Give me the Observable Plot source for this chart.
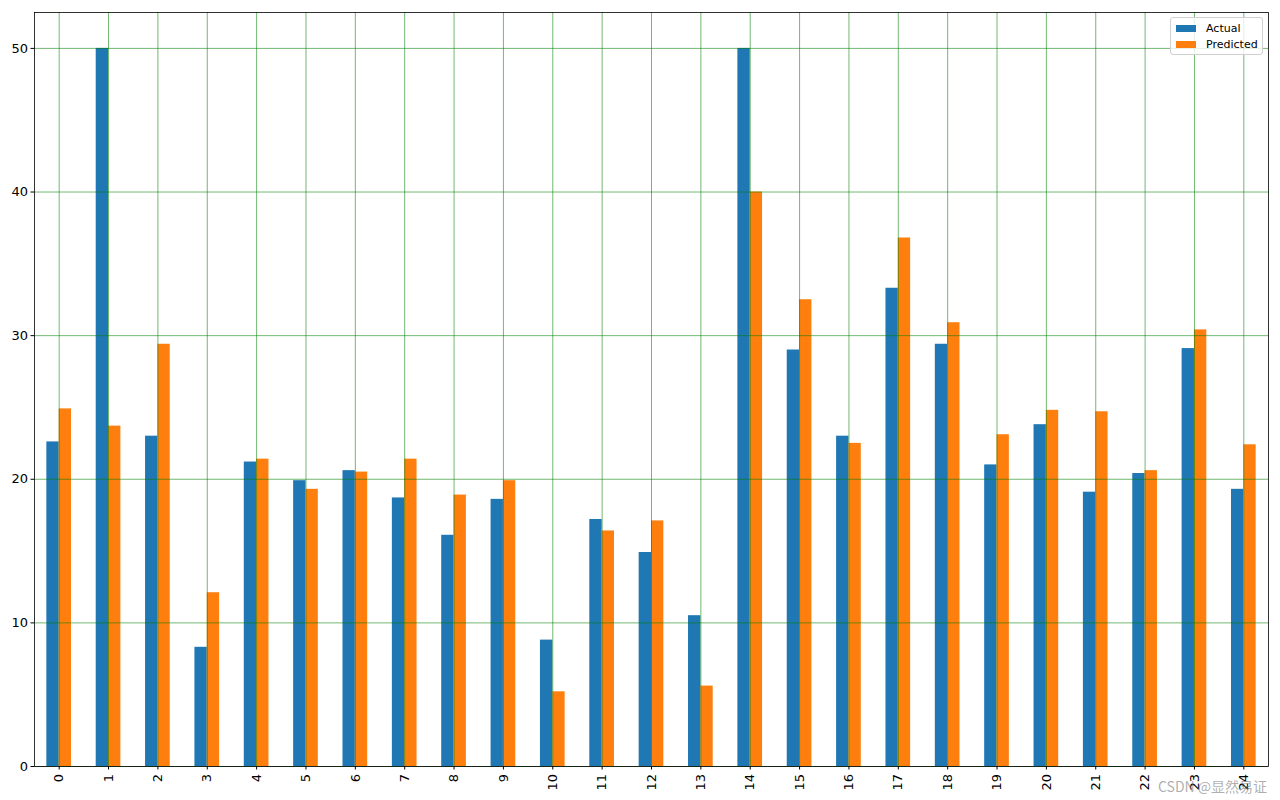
<!DOCTYPE html>
<html>
<head>
<meta charset="utf-8">
<script src="https://cdn.jsdelivr.net/npm/d3@7"></script>
<script src="https://cdn.jsdelivr.net/npm/@observablehq/plot@0.6"></script>
<style>
  body { margin: 0; background: #fff; }
  #wrap { position: relative; width: 1280px; height: 800px; font-family: "DejaVu Sans", sans-serif; }
  #legend { position: absolute; left: 1170px; top: 17px; width: 91px; height: 36px; border: 1px solid #d0d0d0; border-radius: 3px; background: rgba(255,255,255,0.8); font-size: 11px; color: #000; }
  .item { position: absolute; left: 5px; height: 14px; display: flex; align-items: center; }
  .sw { width: 20px; height: 7px; margin-right: 10px; }
  #wm { position: absolute; left: 1158px; top: 776px; font-family: "Noto Sans CJK SC", sans-serif; font-size: 14px; color: rgba(120,120,120,0.6); white-space: nowrap; }
</style>
</head>
<body>
<div id="wrap">
  <div id="chart"></div>
  <div id="legend">
    <div class="item" style="top:3px"><div class="sw" style="background:#1f77b4"></div>Actual</div>
    <div class="item" style="top:19px"><div class="sw" style="background:#ff7f0e"></div>Predicted</div>
  </div>
  <div id="wm">CSDN @显然易证</div>
</div>
<script>
const categories = [0,1,2,3,4,5,6,7,8,9,10,11,12,13,14,15,16,17,18,19,20,21,22,23,24];
const actual = [22.6,50.0,23.0,8.3,21.2,19.9,20.6,18.7,16.1,18.6,8.8,17.2,14.9,10.5,50.0,29.0,23.0,33.3,29.4,21.0,23.8,19.1,20.4,29.1,19.3];
const predicted = [24.9,23.7,29.4,12.1,21.4,19.3,20.5,21.4,18.9,19.9,5.2,16.4,17.1,5.6,40.0,32.5,22.5,36.8,30.9,23.1,24.8,24.7,20.6,30.4,22.4];
const yTicks = [0,10,20,30,40,50];
const seriesNames = ["Actual","Predicted"];
const colors = ["#1f77b4","#ff7f0e"];

const rows = [];
categories.forEach((c, i) => {
  rows.push({cat: c, series: "Actual", value: actual[i], k: 0});
  rows.push({cat: c, series: "Predicted", value: predicted[i], k: 1});
});
const barW = 0.25;

const chart = Plot.plot({
  width: 1280,
  height: 800,
  marginLeft: 34,
  marginRight: 12,
  marginTop: 12,
  marginBottom: 34,
  style: {fontFamily: "DejaVu Sans", fontSize: "13px", color: "#000"},
  x: {domain: [-0.5, 24.5]},
  y: {domain: [0, 52.5]},
  color: {domain: seriesNames, range: colors},
  marks: [
    Plot.rectY(rows, {
      x1: d => d.cat - barW + d.k * barW,
      x2: d => d.cat + d.k * barW,
      y1: 0,
      y2: "value",
      fill: "series"
    }),
    Plot.ruleX(categories, {x: d => d, stroke: "green", strokeOpacity: 0.7, strokeWidth: 0.8}),
    Plot.ruleY(yTicks, {y: d => d, stroke: "green", strokeOpacity: 0.7, strokeWidth: 0.8}),
    Plot.frame({stroke: "#000", strokeWidth: 0.8}),
    Plot.axisX({ticks: categories, tickFormat: d => String(d), tickRotate: -90, tickSize: 3.5, tickPadding: 4, label: null, fontSize: 13}),
    Plot.axisY({ticks: yTicks, tickFormat: d => String(d), tickSize: 3.5, tickPadding: 3, label: null, fontSize: 13})
  ]
});
document.getElementById("chart").appendChild(chart);
</script>
</body>
</html>
